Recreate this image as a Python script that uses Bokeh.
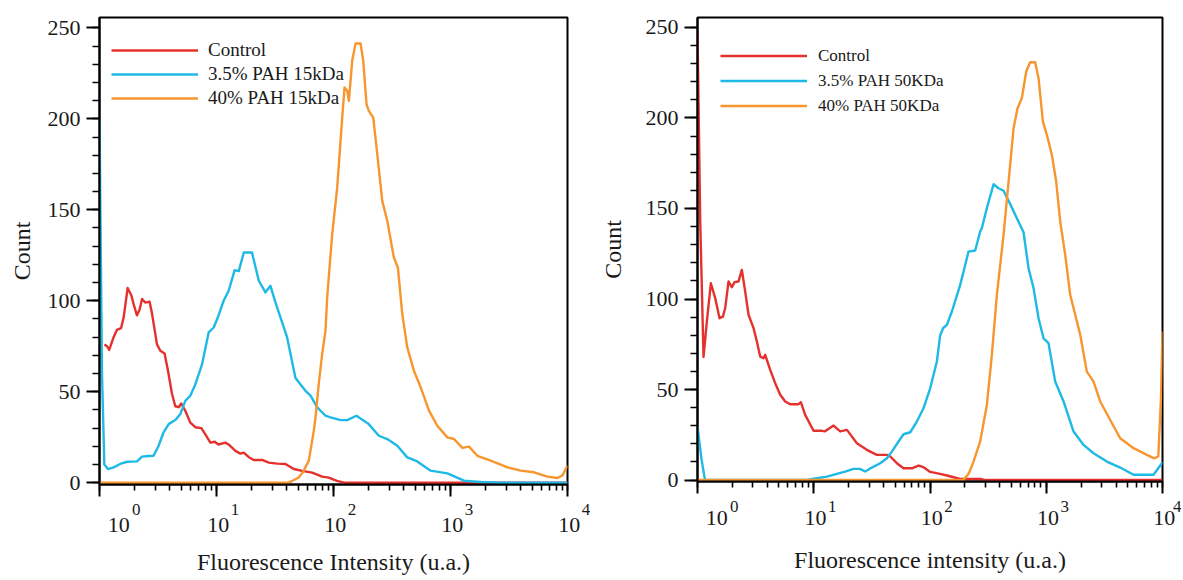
from bokeh.plotting import figure
from bokeh.models import (Legend, LegendItem, LogTicker, SingleIntervalTicker, LogAxis,
                          CustomJSTickFormatter, Range1d)
from bokeh.layouts import row
from bokeh.embed import file_html
from bokeh.resources import INLINE

# ---------------- data ----------------
tick_vals = [1, 10, 100, 1000, 10000]
tick_exps = ["0", "1", "2", "3", "4"]

# Left panel: PAH 15 kDa
ctrl15_x = [1.10, 1.16, 1.21, 1.32, 1.41, 1.53, 1.61, 1.74, 1.87, 1.96, 2.09, 2.20, 2.31, 2.46,
            2.68, 2.81, 3.10, 3.31, 3.60, 3.85, 4.16, 4.44, 4.75, 5.00, 5.41, 5.97, 6.59, 7.42,
            8.03, 8.86, 9.65, 10.4, 11.9, 12.7, 14.5, 16.0, 17.1, 18.9, 20.8, 24.5, 28.0, 33.0,
            38.8, 45.8, 53.9, 65.7, 80.0, 91.2, 107, 123, 200, 10000]
ctrl15_y = [76, 75, 73, 80, 84, 85, 91, 107, 103, 98, 92, 95, 101, 99, 99.5, 93, 76, 72.5, 71,
            61.5, 49, 42, 41.5, 43.5, 39.5, 33, 30.5, 30, 26.5, 22, 22.5, 21, 22, 21, 17.5, 16,
            16.5, 14, 12.5, 12.5, 11, 10.5, 10.3, 7.5, 6.5, 5.5, 3.3, 2.8, 1, 0, 0, 0]

pah35_15_x = [1.0, 1.05, 1.10, 1.18, 1.32, 1.50, 1.72, 2.09, 2.31, 2.63, 2.90, 3.20, 3.53, 3.90,
              4.44, 4.91, 5.41, 5.97, 6.59, 7.52, 8.57, 9.46, 10.4, 11.5, 12.7, 14.3, 15.5, 17.1,
              20.1, 23.0, 26.2, 28.9, 31.9, 35.2, 40.1, 47.3, 57.6, 63.6, 72.6, 85.4, 94.3, 115,
              131, 157, 200, 244, 288, 351, 427, 520, 676, 940, 1304, 1811, 2690, 10000]
pah35_15_y = [200, 60, 10, 7.5, 8.4, 10.3, 11.5, 11.7, 14.3, 14.7, 14.8, 20.3, 27.7, 32.2, 34.4,
              37.7, 45, 47.8, 54, 65, 82.6, 85.3, 91.8, 100, 105.5, 116.8, 116.3, 126.5, 126.5,
              111, 104.6, 108.2, 99.1, 90.8, 80, 57.5, 50.5, 47.8, 41.4, 36.8, 35.9, 34.4, 34.4,
              36.8, 32.2, 25.8, 24, 20.3, 13.9, 11.7, 6.6, 5.1, 1.1, 0.4, 0, 0]

pah40_15_x = [1, 41.4, 46, 50.5, 55, 61.5, 67.9, 70.2, 75, 80, 85.4, 88.3, 97.5, 107.6, 118.7,
              124.2, 131, 135.3, 144.5, 154.3, 170.3, 179.5, 191.6, 200.5, 218.6, 236.6, 261, 288,
              328, 355, 387, 427, 487, 556, 655, 771, 940, 1071, 1263, 1439, 1698, 2207, 3069,
              3984, 5177, 6743, 8204, 9059, 10000]
pah40_15_y = [0, 0, 1.5, 2.9, 6, 12.1, 28.6, 35.9, 55, 70.7, 83.5, 101.8, 136.6, 162.3, 200.7,
              217.2, 215.4, 209.9, 231.9, 241.4, 241.4, 231.9, 208, 204.4, 200.7, 180.6, 154.9,
              144, 123.8, 118.3, 92.7, 74.4, 61.5, 52.4, 39.6, 31.3, 24.9, 24, 19.1, 19.8, 14.8,
              12.1, 8.4, 6.6, 5.7, 3.3, 2.6, 4, 9.3]

# Right panel: PAH 50 kDa
ctrl50_x = [1.0, 1.055, 1.127, 1.204, 1.303, 1.42, 1.547, 1.653, 1.73, 1.849, 1.975, 2.083, 2.254,
            2.408, 2.572, 2.748, 3.034, 3.241, 3.462, 3.70, 3.823, 4.221, 4.66, 5.147, 5.682,
            6.272, 7.397, 7.748, 8.44, 9.96, 11.74, 12.5, 14.8, 16.9, 19.3, 23.5, 28.6, 34.9,
            42.6, 45.5, 51.9, 59.2, 69.8, 79.7, 88.0, 100.4, 122, 140, 182, 270, 300, 10000]
ctrl50_y = [248, 143, 68, 87.6, 108.7, 100.5, 89.4, 90.3, 94.9, 109.7, 106.5, 109.3, 109.7, 116.1,
            104.1, 91.3, 83.9, 76.5, 68.2, 67.3, 69.2, 60.9, 53.5, 47.1, 43.4, 41.9, 41.9, 43, 36,
            27.2, 27.2, 26.9, 30.1, 26.9, 27.7, 20.3, 16.7, 13.9, 13.9, 13, 9.3, 6.5, 6.5, 8, 7.1,
            4.5, 3.4, 2.5, 0.6, 0.6, 0, 0]

pah35_50_x = [1.0, 1.08, 1.16, 8.73, 10.64, 12.97, 15.8, 18.6, 22.0, 25.0, 27.7, 31.6, 37.3, 42.6,
              47.0, 53.6, 59.2, 67.6, 77.1, 88.0, 100.4, 114.6, 122.4, 130, 139.7, 154.3, 181.9,
              214.5, 244.8, 270.2, 279, 308.4, 352.2, 388.7, 429.4, 489.8, 558.8, 637.7, 704.3,
              777.6, 858.3, 947.6, 1046, 1194, 1409, 1718, 2093, 2552, 3322, 4325, 5636, 8376,
              9880, 10000]
pah35_50_y = [29.6, 12, 0, 0, 1, 1.9, 3.4, 4.7, 6.2, 6.2, 4.7, 6.9, 9.3, 12, 15.7, 21.3, 25.3,
              26.4, 32.3, 39.7, 50.7, 65.5, 80, 84, 85.7, 93.1, 107.8, 126.2, 126.8, 137.3, 139.1,
              150.2, 163.4, 161.2, 159.8, 152.4, 144.6, 136.9, 117, 106, 89.4, 78.3, 75.6, 54.4,
              43.4, 26.8, 19.4, 14.8, 10.2, 6.9, 2.9, 2.9, 9.3, 10]

pah40_50_x = [1, 194, 215, 236.8, 270.2, 308.4, 340.6, 376, 429.4, 474.2, 523.6, 566.2, 617.2,
              672.3, 727.8, 803.5, 858.3, 935.2, 1012, 1117, 1218, 1319, 1456, 1607, 1775, 1960,
              2235, 2552, 2912, 3550, 4325, 5636, 7340, 8486, 9200, 9700, 10000]
pah40_50_y = [0, 0, 3.5, 10.2, 21.3, 41.5, 69.2, 102.3, 135.5, 164.9, 194.4, 205.4, 211, 225.7,
              230.8, 230.8, 222, 198.1, 190.7, 179.7, 164.9, 142.8, 124.4, 102.3, 91.3, 80.2,
              59.9, 54.4, 43.4, 33.2, 23.1, 17.6, 13.9, 12, 13, 45, 82]

labels15 = ["Control", "3.5% PAH 15kDa", "40% PAH 15kDa"]
labels50 = ["Control", "3.5% PAH 50KDa", "40% PAH 50KDa"]
x_title15 = "Fluorescence Intensity (u.a.)"
x_title50 = "Fluorescence intensity (u.a.)"
y_title = "Count"

# ---------------- styling ----------------
RED = "#E5312D"
CYAN = "#1FB9E6"
ORANGE = "#F7962F"
FONT = "Liberation Serif"
TXT = "#1a1a1a"

# spacing characters used to nudge tick labels to the right of their ticks
EM, EN, THIRD, QUART, SIXTH = "\u2003", "\u2002", "\u2004", "\u2005", "\u2006"
EXP_LEAD_FIRST = EM * 4 + THIRD
EXP_LEAD = EM * 2 + SIXTH
BASE_LEAD_FIRST = EM + EN + QUART
BASE_LEAD = SIXTH

FMT_CODE = """
for (let i = 0; i < vals.length; i++) {
  if (Math.abs(Math.log10(tick) - Math.log10(vals[i])) < 1e-6) {
    return (i == 0 ? lead_first : lead) + labs[i];
  }
}
return '';
"""


def panel(series, labels, xtitle, cfg):
    p = figure(x_axis_type="log", x_range=Range1d(1, 10000), y_range=Range1d(*cfg["yr"]),
               frame_width=cfg["fw"], frame_height=cfg["fh"],
               min_border_left=cfg["bl"], min_border_right=cfg["br"],
               min_border_top=cfg["bt"], min_border_bottom=cfg["bb"],
               output_backend="svg", toolbar_location=None,
               background_fill_color="white", border_fill_color="white")
    p.xgrid.visible = False
    p.ygrid.visible = False
    p.outline_line_color = "black"
    p.outline_line_width = 2

    # main x axis: ticks + exponents
    xa = p.xaxis[0]
    xa.ticker = LogTicker(num_minor_ticks=10)
    xa.formatter = CustomJSTickFormatter(
        args=dict(vals=tick_vals, labs=tick_exps, lead_first=EXP_LEAD_FIRST, lead=EXP_LEAD),
        code=FMT_CODE)
    xa.major_label_text_font = FONT
    xa.major_label_text_font_size = "17px"
    xa.major_label_text_color = TXT
    xa.major_label_standoff = cfg["exp_standoff"]

    ya = p.yaxis[0]
    ya.ticker = SingleIntervalTicker(interval=50, num_minor_ticks=5)
    for ax in (xa, ya):
        ax.axis_line_color = "black"
        ax.axis_line_width = 2
        ax.major_tick_line_color = "black"
        ax.major_tick_line_width = 2
        ax.minor_tick_line_color = "black"
        ax.minor_tick_line_width = 1.6
        ax.major_tick_in = 0
        ax.minor_tick_in = 0
    xa.major_tick_out = 12
    xa.minor_tick_out = 6
    ya.major_tick_out = 13
    ya.minor_tick_out = 7
    ya.major_label_text_font = FONT
    ya.major_label_text_font_size = "22px"
    ya.major_label_text_color = TXT
    ya.major_label_standoff = 6
    ya.axis_label = y_title
    ya.axis_label_text_font = FONT
    ya.axis_label_text_font_size = "24px"
    ya.axis_label_text_font_style = "normal"
    ya.axis_label_text_color = TXT
    ya.axis_label_standoff = cfg["ylab_standoff"]

    # secondary x axis: the "10" bases and the axis title
    xb = LogAxis(ticker=LogTicker(num_minor_ticks=10),
                 formatter=CustomJSTickFormatter(
                     args=dict(vals=tick_vals, labs=["10"] * len(tick_vals),
                               lead_first=BASE_LEAD_FIRST, lead=BASE_LEAD),
                     code=FMT_CODE))
    xb.axis_line_color = None
    xb.major_tick_line_color = None
    xb.minor_tick_line_color = None
    xb.major_tick_out = 0
    xb.minor_tick_out = 0
    xb.major_tick_in = 0
    xb.minor_tick_in = 0
    xb.major_label_text_font = FONT
    xb.major_label_text_font_size = "22px"
    xb.major_label_text_color = TXT
    xb.major_label_standoff = cfg["base_standoff"]
    xb.axis_label = xtitle
    xb.axis_label_text_font = FONT
    xb.axis_label_text_font_size = "24px"
    xb.axis_label_text_font_style = "normal"
    xb.axis_label_text_color = TXT
    xb.axis_label_standoff = cfg["xlab_standoff"]
    p.add_layout(xb, "below")

    renderers = []
    for (xs, ys, col) in series:
        r = p.line(xs, ys, line_color=col, line_width=2.4, line_join="round")
        renderers.append(r)

    legend = Legend(items=[LegendItem(label=lab, renderers=[r]) for lab, r in zip(labels, renderers)],
                    location=cfg["leg_loc"], orientation="vertical",
                    border_line_color=None, background_fill_alpha=0,
                    padding=0, margin=0, spacing=0,
                    glyph_width=87, glyph_height=cfg["leg_h"], label_height=cfg["leg_h"],
                    label_standoff=cfg["leg_standoff"],
                    label_text_font=FONT, label_text_font_size=cfg["leg_font"],
                    label_text_color=TXT)
    p.add_layout(legend)
    return p


cfg_left = dict(yr=(-1, 255.7), fw=468, fh=467, bl=99, br=23, bt=17, bb=94,
                ylab_standoff=10, leg_loc=(12, 467 - 21 - 72), leg_h=24, leg_standoff=10,
                leg_font="19px", exp_standoff=3, base_standoff=-10, xlab_standoff=9)
cfg_right = dict(yr=(-0.8, 255.5), fw=465, fh=464, bl=107, br=19, bt=16, bb=98,
                 ylab_standoff=17, leg_loc=(23, 464 - 26 - 75), leg_h=25, leg_standoff=11,
                 leg_font="17px", exp_standoff=3, base_standoff=-14, xlab_standoff=14)

p1 = panel([(ctrl15_x, ctrl15_y, RED), (pah35_15_x, pah35_15_y, CYAN), (pah40_15_x, pah40_15_y, ORANGE)],
           labels15, x_title15, cfg_left)
p2 = panel([(ctrl50_x, ctrl50_y, RED), (pah35_50_x, pah35_50_y, CYAN), (pah40_50_x, pah40_50_y, ORANGE)],
           labels50, x_title50, cfg_right)

layout = row(p1, p2)
open("out.html", "w").write(file_html(layout, INLINE))
